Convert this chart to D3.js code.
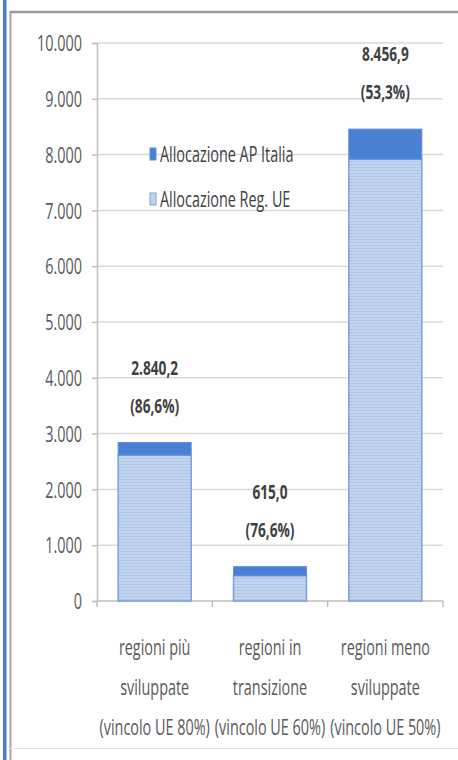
<!DOCTYPE html>
<html>
<head>
<meta charset="utf-8">
<script src="https://cdn.jsdelivr.net/npm/d3@7"></script>
<style>
  html, body { margin: 0; padding: 0; background: #fff; }
  svg { display: block; }
  text { font-family: "Open Sans", "DejaVu Sans", sans-serif; }
</style>
</head>
<body>
<svg id="chart" width="458" height="760"></svg>
<script>
// Regional categories (each label split on its lines)
const categories = [
  ["regioni più", "sviluppate", "(vincolo UE 80%)"],
  ["regioni in", "transizione", "(vincolo UE 60%)"],
  ["regioni meno", "sviluppate", "(vincolo UE 50%)"]
];
// Total allocation per category (M€) and its stated share
const totals = [2840.2, 615.0, 8456.9];
const shares = [86.6, 76.6, 53.3];
// Part of each total coming from the EU regulation allocation
const allocRegUE = [2616, 454, 7920];
// Remaining part: national Partnership Agreement allocation
const allocAPItalia = totals.map((t, i) => t - allocRegUE[i]);

const seriesNames = ["Allocazione AP Italia", "Allocazione Reg. UE"];
const yTicks = [0, 1000, 2000, 3000, 4000, 5000, 6000, 7000, 8000, 9000, 10000];

const it = d3.formatLocale({ decimal: ",", thousands: ".", grouping: [3], currency: ["€", ""] });
const fmtTick = it.format(",d");
const fmtVal = it.format(",.1f");

const SX = 0.72; // narrow lettering
const SY = 1.06;
const svg = d3.select("#chart");

// Frame
svg.append("rect").attr("x", 3).attr("y", 0).attr("width", 3.5).attr("height", 760).attr("fill", "#4f7fcb");
svg.append("line").attr("x1", 10.5).attr("x2", 10.5).attr("y1", 11).attr("y2", 760)
  .attr("stroke", "#a6a6a6").attr("stroke-width", 2);
svg.append("line").attr("x1", 10).attr("x2", 458).attr("y1", 12).attr("y2", 12)
  .attr("stroke", "#9a9a9a").attr("stroke-width", 2.5);
svg.append("line").attr("x1", 10).attr("x2", 458).attr("y1", 748.5).attr("y2", 748.5)
  .attr("stroke", "#e4e4e4").attr("stroke-width", 1);

// Pattern for the light series
const defs = svg.append("defs");
const pat = defs.append("pattern").attr("id", "ueFill").attr("patternUnits", "userSpaceOnUse")
  .attr("width", 6).attr("height", 3);
pat.append("rect").attr("width", 6).attr("height", 3).attr("fill", "#c3d5ee");
pat.append("rect").attr("y", 2).attr("width", 6).attr("height", 1).attr("fill", "#afc6e8");

const x = d3.scaleBand().domain(d3.range(categories.length)).range([97, 443])
  .paddingInner(0.367).paddingOuter(0.1835);
const xOuter = d3.scaleBand().domain(d3.range(categories.length)).range([97, 443]);
const y = d3.scaleLinear().domain([0, 10000]).range([601, 43]);

// Gridlines
svg.append("g").selectAll("line").data(yTicks.filter(d => d > 0)).join("line")
  .attr("x1", 97).attr("x2", 443).attr("y1", d => y(d)).attr("y2", d => y(d))
  .attr("stroke", "#d9d9d9").attr("stroke-width", 1.5);

// Y axis
const gy = svg.append("g").attr("transform", "translate(97,0)")
  .call(d3.axisLeft(y).tickValues(yTicks).tickFormat(fmtTick).tickSize(5).tickPadding(0));
gy.select(".domain").attr("stroke", "#bfbfbf").attr("stroke-width", 1.5);
gy.selectAll(".tick line").attr("stroke", "#bfbfbf").attr("stroke-width", 1.5);
gy.selectAll(".tick text")
  .attr("x", -15 / SX).attr("dy", "0.36em")
  .attr("transform", `scale(${SX},${SY})`)
  .attr("font-size", 20).attr("fill", "#595959").attr("text-anchor", "end")
  .attr("font-family", "Open Sans");

// X axis line and boundary ticks
svg.append("line").attr("x1", 97).attr("x2", 443).attr("y1", y(0)).attr("y2", y(0))
  .attr("stroke", "#bfbfbf").attr("stroke-width", 1.5);
const bounds = d3.range(categories.length).map(i => xOuter(i)).concat([xOuter(categories.length - 1) + xOuter.bandwidth()]);
svg.append("g").selectAll("line").data(bounds).join("line")
  .attr("x1", d => d).attr("x2", d => d).attr("y1", y(0)).attr("y2", y(0) + 6)
  .attr("stroke", "#bfbfbf").attr("stroke-width", 1.5);

// Bars: EU part at the base, national part stacked on top
const bars = svg.append("g").selectAll("g").data(d3.range(categories.length)).join("g");
bars.append("rect")
  .attr("x", i => x(i)).attr("width", x.bandwidth())
  .attr("y", i => y(allocRegUE[i])).attr("height", i => y(0) - y(allocRegUE[i]))
  .attr("fill", "url(#ueFill)").attr("stroke", "#7aa0da").attr("stroke-width", 1.5);
bars.append("rect")
  .attr("x", i => x(i)).attr("width", x.bandwidth())
  .attr("y", i => y(totals[i])).attr("height", i => y(allocRegUE[i]) - y(totals[i]))
  .attr("fill", "#4a80d4").attr("stroke", "#5b8edb").attr("stroke-width", 1);

// Value labels above each bar
function narrowText(sel, tx, ty, str, size, weight, fill) {
  const g = sel.append("g").attr("transform", `translate(${tx},${ty})`);
  g.append("text").attr("transform", `scale(${SX},${SY})`)
    .attr("text-anchor", "middle").attr("dy", "0.36em")
    .attr("font-size", size).attr("font-weight", weight).attr("fill", fill)
    .text(str);
  return g;
}
bars.each(function (i) {
  const cx = x(i) + x.bandwidth() / 2;
  const top = y(totals[i]);
  narrowText(d3.select(this), cx, top - 75, fmtVal(totals[i]), 19, 700, "#3f3f3f");
  narrowText(d3.select(this), cx, top - 37, "(" + fmtVal(shares[i]) + "%)", 19, 700, "#3f3f3f");
});

// Category labels
const cat = svg.append("g").selectAll("g").data(categories).join("g");
cat.each(function (lines, i) {
  const cx = xOuter(i) + xOuter.bandwidth() / 2;
  lines.forEach((ln, k) => narrowText(d3.select(this), cx, 647 + k * 40, ln, 20, 400, "#595959"));
});

// Legend
const legend = svg.append("g").selectAll("g").data(seriesNames).join("g")
  .attr("transform", (d, i) => `translate(150,${154 + i * 45})`);
legend.append("rect").attr("x", 0).attr("y", -6).attr("width", 6).attr("height", 12)
  .attr("fill", (d, i) => i === 0 ? "#4a80d4" : "#c3d5ee")
  .attr("stroke", (d, i) => i === 0 ? "#5b8edb" : "#7aa0da").attr("stroke-width", 1);
legend.append("text").attr("transform", `translate(10,0) scale(${SX},${SY})`)
  .attr("dy", "0.36em").attr("font-size", 20).attr("fill", "#404040")
  .text(d => d);
</script>
</body>
</html>
